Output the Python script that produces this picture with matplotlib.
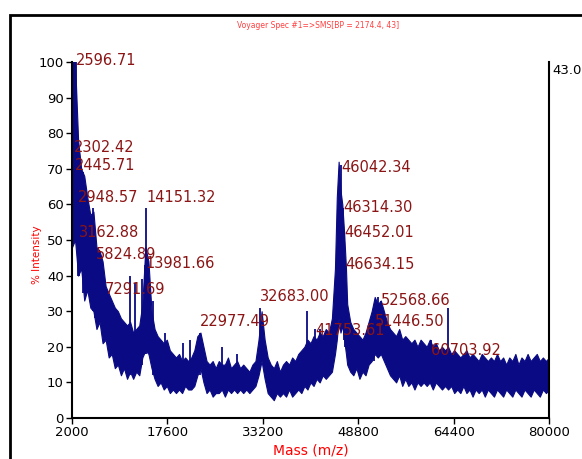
import matplotlib
matplotlib.use('Agg')
import matplotlib.pyplot as plt
from matplotlib.patches import Rectangle

plt.rcParams['font.family'] = ['DejaVu Sans']

# envelope of the noisy trace, read every 500 Da (denser across the main peak)
env_mass = (list(range(2000, 45000, 500))
            + [45000, 45300, 45600, 45900, 46200, 46500, 46800]
            + list(range(47000, 80001, 500)))
env_low = [48, 50, 40, 42, 33, 36, 31, 30, 25, 27,
           21, 22, 17, 18, 14, 15, 12, 14, 11, 13,
           11, 13, 12, 17, 19, 18, 14, 11, 9, 10,
           8, 9, 7, 8, 7, 8, 7, 9, 8, 8,
           9, 12, 14, 10, 7, 8, 6, 7, 7, 8,
           6, 8, 7, 8, 7, 8, 7, 8, 7, 8,
           9, 12, 16, 11, 7, 6, 5, 7, 6, 7,
           6, 8, 6, 7, 8, 7, 9, 8, 10, 9,
           11, 10, 12, 11, 12, 13,
           18, 22, 28, 24, 26, 22, 18,
           15, 13, 12, 14, 11, 13, 12, 15, 16, 18,
           17, 18, 16, 14, 12, 11, 10, 12, 9, 11,
           9, 10, 8, 10, 9, 10, 9, 10, 8, 10,
           9, 8, 9, 8, 9, 7, 8, 7, 9, 7,
           8, 6, 8, 7, 8, 6, 8, 7, 6, 8,
           7, 6, 8, 7, 6, 8, 7, 6, 8, 7,
           6, 8, 7, 6, 8, 7, 8]
env_high = [100, 100, 78, 70, 68, 62, 57, 58, 48, 47,
            44, 37, 35, 33, 31, 30, 28, 27, 26, 27,
            24, 25, 26, 32, 48, 44, 30, 25, 23, 22,
            21, 22, 19, 18, 17, 18, 16, 17, 16, 17,
            19, 23, 24, 20, 16, 15, 16, 14, 16, 15,
            15, 17, 14, 15, 16, 14, 15, 14, 13, 15,
            16, 22, 30, 22, 17, 15, 14, 16, 13, 15,
            16, 15, 17, 16, 18, 19, 20, 22, 21, 23,
            22, 24, 23, 25, 24, 28,
            42, 62, 72, 64, 60, 52, 42,
            32, 27, 25, 24, 23, 22, 24, 27, 30, 34,
            32, 33, 30, 27, 25, 24, 23, 25, 22, 23,
            22, 21, 22, 20, 22, 21, 20, 22, 20, 21,
            19, 20, 19, 20, 18, 19, 18, 17, 18, 19,
            17, 18, 17, 16, 18, 17, 16, 17, 16, 18,
            16, 17, 15, 17, 16, 18, 15, 17, 16, 18,
            16, 17, 18, 16, 17, 16, 17]

# single spikes above the band (mass, foot, top)
spike_mass = [2302, 2446, 2597, 2949, 3163, 3800, 5400, 5825, 7292, 11480,
              12300, 13450, 13982, 14151, 15240, 17200, 20150, 21300, 22977,
              26500, 29000, 32683, 40400, 41754, 42550, 46042, 46314, 46452,
              46634, 51447, 52000, 52569, 60704, 63500]
spike_base = [50, 50, 50, 40, 40, 35, 30, 28, 22, 12,
              12, 15, 18, 18, 12, 9, 8, 8, 12,
              8, 8, 14, 9, 10, 10, 25, 25, 22,
              20, 16, 17, 18, 10, 9]
spike_height = [76, 71, 100, 62, 52, 69, 59, 46, 36, 40,
                38, 39, 43, 59, 33, 24, 21, 22, 24,
                20, 18, 31, 30, 25, 25, 71, 59, 52,
                43, 27, 34, 33, 22, 31]

# peak labels (mass, text height)
label_mass = [2596.71, 2302.42, 2445.71, 2948.57, 14151.32, 3162.88, 5824.89,
              13981.66, 7291.69, 32683.00, 22977.49, 46042.34, 46314.30,
              46452.01, 46634.15, 52568.66, 51446.50, 41753.61, 60703.92]
label_y = [100.5, 76, 71, 62, 62, 52, 46, 43.5, 36, 34, 27, 70.5, 59, 52,
           43, 33, 27, 24.5, 19]

x_ticks = [2000, 17600, 33200, 48800, 64400, 80000]
y_ticks = [0, 10, 20, 30, 40, 50, 60, 70, 80, 90, 100]

trace_color = '#0a0a84'
label_color = '#8b1515'

fig = plt.figure(figsize=(5.82, 4.59), dpi=100)
ax = fig.add_axes([72 / 582, 1 - 418 / 459, 477 / 582, 356 / 459])

ax.fill_between(env_mass, env_low, env_high, color=trace_color, lw=0.8)
ax.vlines(spike_mass, spike_base, spike_height, color=trace_color, lw=1.3)

for m, yv in zip(label_mass, label_y):
    ax.text(m, yv, f'{m:.2f}', color=label_color, fontsize=10.5,
            ha='left', va='center')

ax.set_xlim(2000, 80000)
ax.set_ylim(0, 100)
ax.set_xticks(x_ticks)
ax.set_xticklabels([str(t) for t in x_ticks])
ax.set_yticks(y_ticks)
ax.tick_params(direction='out', length=4, width=1, labelsize=9.5, colors='black', pad=2)
ax.spines['top'].set_visible(False)
for s in ['left', 'bottom', 'right']:
    ax.spines[s].set_linewidth(1.5)

ax.set_xlabel('Mass (m/z)', color='red', fontsize=10, labelpad=3)
fig.text(37 / 582, 1 - 255 / 459, '% Intensity', color='red', fontsize=7.5,
         rotation=90, ha='center', va='center')
fig.text(318 / 582, 1 - 26 / 459, 'Voyager Spec #1=>SMS[BP = 2174.4, 43]',
         color='#ff4040', fontsize=5.5, ha='center', va='center')
ax.text(1.008, 0.976, '43.0', transform=ax.transAxes, fontsize=9.5,
        ha='left', va='center')

# outer frame
fig.add_artist(Rectangle((10 / 582, -0.1), 1.2, (459 - 15) / 459 + 0.1,
                         transform=fig.transFigure, fill=False, lw=2, ec='black'))

fig.savefig('out.png', dpi=100)
